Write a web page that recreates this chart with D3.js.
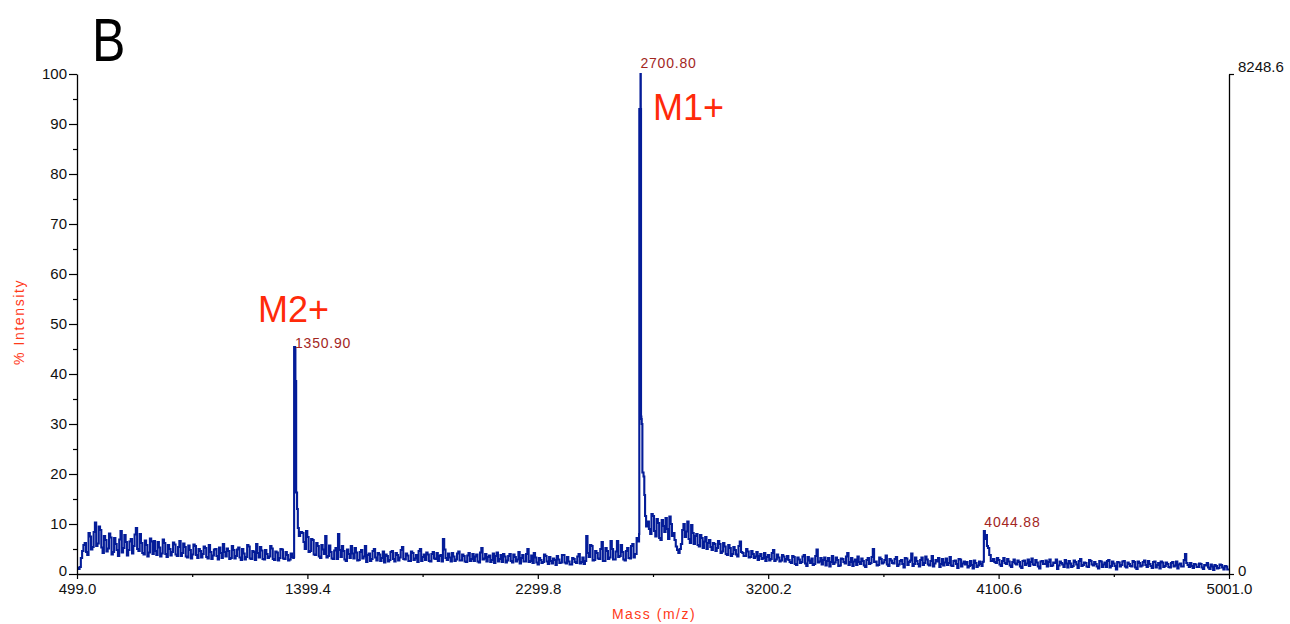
<!DOCTYPE html>
<html>
<head>
<meta charset="utf-8">
<script src="https://cdn.jsdelivr.net/npm/d3@7"></script>
<style>
  body { margin: 0; background: #fff; }
  text { font-family: "Liberation Sans", Arial, sans-serif; }
</style>
</head>
<body>
<div id="graph_here"></div>
<script>
// spectrum read every 10 m/z on two interleaved grids (A at x, B at x+5)
const scanStep = 10;
const segStarts = [499, 1379, 2729, 4079];
const segStartsB = [504, 1384, 2734, 4084];

const noiseLow = [
  1.2, 1.4, 4.6, 6.2, 3.8, 7.5, 5.4, 10.3, 6.1, 8.8,
  4.2, 6.8, 5.1, 7.3, 4.4, 6.0, 3.6, 8.6, 5.2, 6.4,
  4.8, 7.0, 5.6, 9.2, 4.6, 6.2, 3.9, 5.8, 4.3, 6.5,
  6.6, 3.8, 5.3, 4.1, 6.2, 3.4, 5.0, 4.4, 5.9, 3.6,
  6.6, 4.2, 5.4, 3.3, 4.8, 3.9, 5.6, 3.2, 4.6, 4.0,
  5.2, 3.1, 4.4, 3.7, 5.0, 2.9, 4.2, 6.0, 3.5, 4.6,
  3.2, 4.8, 3.6, 5.3, 2.8, 4.1, 3.4, 5.5, 3.0, 4.4,
  6.0, 3.3, 4.7, 2.9, 4.0, 3.5, 5.1, 2.8, 4.3, 3.2,
  4.9, 3.0, 3.8, 2.9, 3.4
];
const noiseLowB = [
  1.0, 3.2, 5.8, 4.4, 8.2, 4.9, 8.4, 5.6, 9.5, 5.3,
  7.6, 4.5, 8.1, 3.9, 7.2, 4.8, 6.9, 4.3, 7.8, 3.7,
  6.5, 4.1, 7.9, 5.0, 8.0, 4.2, 6.7, 3.5, 7.1, 4.0,
  4.6, 6.4, 3.5, 6.9, 4.0, 5.8, 3.7, 6.3, 3.9, 5.4,
  3.6, 6.1, 3.5, 5.7, 3.1, 5.9, 3.8, 5.0, 3.3, 5.5,
  3.4, 5.8, 3.0, 4.9, 3.6, 5.3, 3.2, 4.4, 5.1, 3.0,
  5.6, 3.1, 4.9, 3.3, 5.0, 2.9, 5.8, 3.1, 4.6, 2.8,
  4.2, 5.4, 3.0, 4.8, 3.2, 5.6, 3.0, 4.5, 2.7, 5.0,
  3.1, 4.4, 2.7, 4.1, 3.2
];

const noiseMid = [
  8.2, 5.0, 7.4, 4.6, 6.8, 3.8, 5.6, 3.2, 4.9, 7.6, 3.6, 4.4,
  3.0, 5.2, 8.0, 3.4, 4.6, 2.6, 4.0, 5.6, 3.1, 4.3,
  2.8, 4.8, 3.5, 2.4, 4.1, 3.0, 5.0, 2.7, 3.9, 3.2,
  2.3, 3.6, 2.8, 4.6, 2.5, 3.8, 3.3, 5.4, 2.9, 3.7,
  2.6, 4.2, 3.1, 2.4, 5.0, 3.4, 2.8, 3.9, 2.5, 4.4,
  3.0, 2.6, 3.8, 7.0, 3.2, 4.1, 2.5, 3.5, 2.9, 4.5,
  2.7, 3.6, 2.4, 4.2, 3.0, 2.6, 3.9, 2.3, 5.2, 3.1,
  2.5, 3.7, 2.8, 2.2, 4.3, 3.0, 2.4, 3.5, 2.7, 4.0,
  2.3, 3.4, 2.9, 2.1, 3.8, 2.5, 5.0, 2.6, 2.2, 3.3,
  1.9, 2.8, 2.4, 3.6, 2.0, 2.6, 3.1, 1.8, 2.9, 2.3,
  3.8, 2.1, 2.5, 1.9, 3.0, 2.2, 4.0, 2.4, 2.0, 7.6,
  3.4, 5.6, 2.8, 4.2, 3.0, 6.4, 2.6, 4.6, 3.3, 5.0,
  2.9, 6.6, 3.6, 4.4, 2.7, 5.2, 3.1, 6.0, 4.0
];
const noiseMidB = [
  6.4, 8.6, 4.4, 7.0, 3.9, 6.2, 3.5, 5.8, 4.0, 3.3, 5.7, 3.1,
  4.7, 3.0, 4.8, 5.6, 2.9, 4.9, 3.2, 4.1, 5.2, 2.7,
  4.4, 3.1, 5.6, 3.8, 2.6, 4.6, 3.3, 4.2, 2.6, 4.5,
  3.9, 2.5, 4.4, 3.0, 4.2, 2.7, 4.8, 3.0, 4.1, 2.6,
  4.5, 2.8, 3.8, 4.6, 2.6, 3.9, 4.3, 2.6, 4.0, 3.1,
  4.2, 3.6, 2.5, 4.9, 2.8, 3.3, 4.2, 2.6, 4.1, 2.7,
  3.9, 2.5, 3.7, 2.6, 4.0, 3.5, 2.5, 4.3, 2.9, 4.0,
  3.4, 2.4, 4.1, 3.6, 2.5, 3.8, 4.0, 2.3, 3.6, 2.6,
  3.9, 2.5, 4.4, 3.2, 2.5, 4.0, 2.4, 3.7, 4.2, 2.3,
  3.2, 2.2, 3.9, 2.5, 3.4, 2.1, 2.8, 3.6, 2.2, 3.8,
  2.3, 3.4, 1.9, 3.2, 2.4, 3.5, 2.1, 3.3, 2.6, 4.2,
  5.8, 2.7, 4.6, 3.1, 5.0, 2.6, 5.2, 3.0, 6.6, 2.9,
  4.5, 3.4, 5.8, 2.9, 4.6, 3.2, 5.6, 3.3
];

const noiseTail = [
  10.5, 8.0, 11.6, 7.5, 10.2, 6.8, 9.6, 11.2, 7.0, 10.0, 8.2,
  5.5, 4.2, 6.0,
  10.0, 8.5, 7.0, 9.8, 6.0, 8.0, 5.5, 7.2, 6.5, 5.0, 6.8, 4.8, 6.0, 5.2,
  6.0, 4.5, 5.5, 3.8, 5.2, 4.0, 4.8, 3.5, 6.5, 4.2, 3.6, 4.5, 3.4, 4.0,
  3.5, 2.8, 4.0, 3.2, 2.6, 3.8, 3.0, 4.8, 2.9, 3.3, 2.7, 3.5, 3.0, 2.8,
  2.2, 3.4, 1.8, 2.9, 2.4, 3.8, 1.6, 2.7, 3.1, 2.0,
  4.9, 2.5, 1.9, 3.3, 2.6, 1.5, 3.6, 2.3, 2.8, 1.7,
  3.0, 2.1, 4.2, 2.4, 1.6, 2.9, 3.5, 2.0, 2.6, 1.4,
  3.2, 2.2, 5.0, 2.5, 1.8, 3.0, 2.3, 3.7, 1.6, 2.7,
  2.1, 3.4, 1.9, 2.8, 1.3, 3.1, 2.4, 4.1, 2.0, 2.6,
  1.5, 3.3, 2.2, 2.9, 1.7, 3.6, 2.1, 2.5, 1.4, 3.0,
  2.3, 1.8, 3.4, 1.6, 2.7, 1.2, 2.9, 2.1,
  1.9, 1.3, 2.6, 1.1, 2.2, 1.7, 2.0
];
const noiseTailB = [
  9.0, 12.0, 8.6, 11.0, 7.2, 10.8, 8.4, 9.0, 11.5, 7.6, 6.8,
  4.8, 5.0, 8.8,
  7.4, 10.5, 6.2, 8.2, 7.6, 5.8, 7.8, 5.2, 7.4, 6.2, 5.4, 6.2, 4.6, 6.6,
  4.2, 6.2, 4.0, 5.8, 3.6, 5.4, 3.9, 5.6, 4.4, 3.6, 5.0, 3.3, 4.6, 3.2,
  4.4, 3.6, 3.0, 4.2, 3.4, 2.7, 4.2, 2.6, 3.9, 2.5, 3.8, 2.5, 3.6, 2.4,
  3.6, 2.0, 3.3, 2.2, 3.5, 2.1, 3.4, 2.2, 1.8, 3.6,
  2.3, 3.2, 2.8, 1.7, 3.2, 2.4, 2.0, 3.3, 1.6, 3.1,
  2.4, 3.5, 1.8, 3.2, 2.5, 1.8, 2.4, 3.1, 1.7, 2.8,
  2.0, 3.4, 2.4, 1.7, 3.3, 2.1, 2.8, 1.9, 3.0, 2.2,
  3.0, 1.6, 2.6, 2.0, 3.2, 1.8, 2.7, 1.6, 3.3, 2.0,
  2.8, 1.8, 3.5, 1.9, 2.6, 1.5, 2.8, 3.2, 2.0, 1.7,
  3.1, 2.2, 1.7, 2.6, 2.0, 3.0, 1.5, 2.5,
  2.4, 1.6, 1.8, 2.7, 1.4, 2.5, 1.6
];

const noiseHigh = [
  3.0, 2.2, 2.8, 1.6, 3.2, 2.0, 2.5, 1.4, 2.9, 1.9,
  2.4, 1.2, 2.7, 2.1, 1.6, 3.1, 1.8, 2.3, 1.1, 2.6,
  2.0, 1.5, 2.9, 1.7, 2.2, 1.0, 2.5, 1.9, 2.8, 1.3,
  2.1, 1.6, 2.4, 1.2, 3.0, 1.8, 2.2, 1.4, 2.6, 1.7,
  2.0, 1.1, 2.5, 1.9, 1.4, 2.8, 1.6, 2.1, 0.9, 2.3,
  1.8, 2.6, 1.3, 2.0, 1.5, 2.4, 1.0, 2.2, 1.7, 2.7,
  1.4, 2.0, 1.2, 2.5, 1.8, 1.1, 2.3, 1.6, 2.0, 1.3,
  2.4, 1.7, 1.1, 2.1, 1.5, 4.0, 1.8, 2.2, 1.2, 1.9,
  1.4, 2.0, 1.0, 1.7, 1.3, 1.9, 0.8, 1.6, 1.2, 1.8,
  0.9, 1.5, 1.1
];
const noiseHighB = [
  2.4, 3.2, 1.9, 2.6, 2.2, 3.0, 1.7, 2.4, 2.1, 2.7,
  1.5, 2.6, 1.8, 2.9, 2.4, 1.9, 2.8, 1.5, 2.5, 2.0,
  2.7, 2.4, 1.6, 2.3, 2.9, 1.7, 2.2, 1.4, 2.1, 2.6,
  1.4, 2.7, 1.9, 2.6, 1.6, 2.3, 1.5, 2.8, 1.9, 2.4,
  1.5, 2.6, 1.4, 2.3, 2.6, 1.3, 2.5, 1.6, 2.4, 1.5,
  2.5, 1.5, 2.3, 1.6, 2.6, 1.3, 2.5, 1.5, 2.4, 1.8,
  2.6, 1.6, 2.4, 1.3, 2.2, 2.5, 1.4, 2.3, 1.4, 2.2,
  1.5, 2.5, 1.9, 1.5, 2.8, 2.2, 1.4, 1.6, 2.0, 1.4,
  2.1, 1.3, 1.8, 2.2, 1.0, 1.5, 1.8, 1.1, 1.9, 1.3,
  1.6, 0.9
];

// peaks, read at finer resolution
const peakM2Mass = [1346.5, 1347.5, 1351.5, 1352.5, 1355.5, 1359, 1362, 1366, 1371];
const peakM2Int  = [3.4, 45.4, 45.0, 38.6, 16.3, 13.0, 9.2, 7.6, 8.4];
const peakM1Mass = [2686, 2690, 2695.5, 2696.5, 2700.5, 2701.2, 2702.2, 2703.2, 2704.5, 2706, 2708.5, 2713, 2716, 2719, 2723];
const peakM1Int  = [7.2, 6.5, 8.0, 93.0, 93.0, 100.0, 93.0, 31.5, 31.0, 30.0, 20.3, 19.5, 15.8, 11.6, 9.5];
const peak3Mass  = [4038, 4042, 4043, 4047, 4051, 4055, 4059, 4064, 4070];
const peak3Int   = [2.4, 2.6, 8.6, 7.0, 7.8, 5.6, 5.2, 3.8, 2.6];

// peak labels and ion labels
const labelMass  = [1350.90, 2700.80, 4044.88];
const labelLevel = [45.2, 101.2, 9.5];
const labelText  = ["1350.90", "2700.80", "4044.88"];
const ionMass  = [1206, 2750];
const ionLevel = [50.5, 90.8];
const ionText  = ["M2+", "M1+"];

// axes
const xTicks = [499.0, 1399.4, 2299.8, 3200.2, 4100.6, 5001.0];
const xMinor = [949.2, 1849.6, 2750.0, 3650.4, 4550.8];
const yTicks = [0, 10, 20, 30, 40, 50, 60, 70, 80, 90, 100];
const yMinor = [5, 15, 25, 35, 45, 55, 65, 75, 85, 95];
const rightTicks = [0, 100];
const rightLabels = ["0", "8248.6"];

function drawSpectrum(){
    const width = 1290;
    const height = 624;
    const left = 77, right = 1229, top = 74, bottom = 574;
    const font = "'Liberation Sans', Arial, sans-serif";

    var svg = d3.select('#graph_here')
        .append('svg')
        .attr("width", width)
        .attr("height", height);

    const xScale = d3.scaleLinear().domain([499.0, 5001.0]).range([left, right]);
    const yScale = d3.scaleLinear().domain([0, 100]).range([bottom, top]);

    //put both grids and the peaks into one list of [mass, intensity]
    var pts = [];
    [noiseLow, noiseMid, noiseTail, noiseHigh].forEach((arr, s) => {
        arr.forEach((v, i) => pts.push([segStarts[s] + i*scanStep, v]));
    });
    [noiseLowB, noiseMidB, noiseTailB, noiseHighB].forEach((arr, s) => {
        arr.forEach((v, i) => pts.push([segStartsB[s] + i*scanStep, v]));
    });
    peakM2Mass.forEach((m, i) => pts.push([m, peakM2Int[i]]));
    peakM1Mass.forEach((m, i) => pts.push([m, peakM1Int[i]]));
    peak3Mass.forEach((m, i) => pts.push([m, peak3Int[i]]));
    pts.sort((a, b) => a[0] - b[0]);

    const line = d3.line()
        .x(d => xScale(d[0]))
        .y(d => yScale(d[1]))
        .curve(d3.curveStepAfter);

    svg.append("path")
        .datum(pts)
        .attr("d", line)
        .attr("fill", "none")
        .attr("stroke", "#041c98")
        .attr("stroke-width", 2.1);

    //axes
    const axisStyle = g => {
        g.attr("font-family", font);
        g.select(".domain").attr("stroke", "#000").attr("stroke-width", 1.3);
        g.selectAll(".tick line").attr("stroke", "#000").attr("stroke-width", 1.2);
        g.selectAll("text").attr("fill", "#111").style("font-size", "15px")
            .style("font-family", font);
    };

    svg.append("g")
        .attr("transform", "translate(0," + bottom + ")")
        .call(d3.axisBottom(xScale).tickValues(xTicks).tickFormat(d3.format(".1f"))
            .tickSize(5).tickSizeOuter(0).tickPadding(4))
        .call(axisStyle);
    svg.append("g")
        .attr("transform", "translate(0," + bottom + ")")
        .call(d3.axisBottom(xScale).tickValues(xMinor).tickFormat("").tickSize(3).tickSizeOuter(0))
        .call(g => g.select(".domain").remove())
        .call(axisStyle);

    var yAxis = svg.append("g")
        .attr("transform", "translate(" + left + ",0)")
        .call(d3.axisLeft(yScale).tickValues(yTicks).tickSize(8).tickSizeOuter(0).tickPadding(2))
        .call(axisStyle);
    yAxis.selectAll(".tick text").filter(d => d === 0).attr("dy", "0.12em");
    svg.append("g")
        .attr("transform", "translate(" + left + ",0)")
        .call(d3.axisLeft(yScale).tickValues(yMinor).tickFormat("").tickSize(4).tickSizeOuter(0))
        .call(g => g.select(".domain").remove())
        .call(axisStyle);

    var rAxis = svg.append("g")
        .attr("transform", "translate(" + right + ",0)")
        .call(d3.axisRight(yScale).tickValues(rightTicks)
            .tickFormat((d, i) => rightLabels[i]).tickSize(5).tickSizeOuter(0).tickPadding(4))
        .call(axisStyle);
    rAxis.selectAll(".tick text").filter(d => d === 100).attr("dy", "-0.15em");
    rAxis.selectAll(".tick text").filter(d => d === 0).attr("dy", "0.12em");

    //peak mass labels
    svg.selectAll(".peaklabel")
        .data(labelText)
        .enter()
        .append("text")
        .attr("x", (d, i) => xScale(labelMass[i]))
        .attr("y", (d, i) => yScale(labelLevel[i]))
        .text(d => d)
        .style("font-family", font)
        .style("font-size", "14px")
        .style("letter-spacing", "0.8px")
        .attr("fill", "#a3261e");

    //ion labels
    svg.selectAll(".ion")
        .data(ionText)
        .enter()
        .append("text")
        .attr("x", (d, i) => xScale(ionMass[i]))
        .attr("y", (d, i) => yScale(ionLevel[i]))
        .text(d => d)
        .style("font-family", font)
        .style("font-size", "36px")
        .attr("fill", "#ff2a0a");

    //axis titles
    svg.append("text")
        .attr("transform", "translate(24,322) rotate(-90)")
        .attr("text-anchor", "middle")
        .text("% Intensity")
        .style("font-family", font)
        .style("font-size", "14px")
        .style("letter-spacing", "1.6px")
        .attr("fill", "#ff3a1a");

    svg.append("text")
        .attr("x", 654)
        .attr("y", 619)
        .attr("text-anchor", "middle")
        .text("Mass (m/z)")
        .style("font-family", font)
        .style("font-size", "14px")
        .style("letter-spacing", "1.5px")
        .attr("fill", "#ff3a1a");

    //panel letter
    svg.append("text")
        .attr("transform", "translate(92,61) scale(0.82,1)")
        .text("B")
        .style("font-family", font)
        .style("font-size", "61px")
        .attr("fill", "#000");
}

window.addEventListener('load', drawSpectrum);
</script>
</body>
</html>
